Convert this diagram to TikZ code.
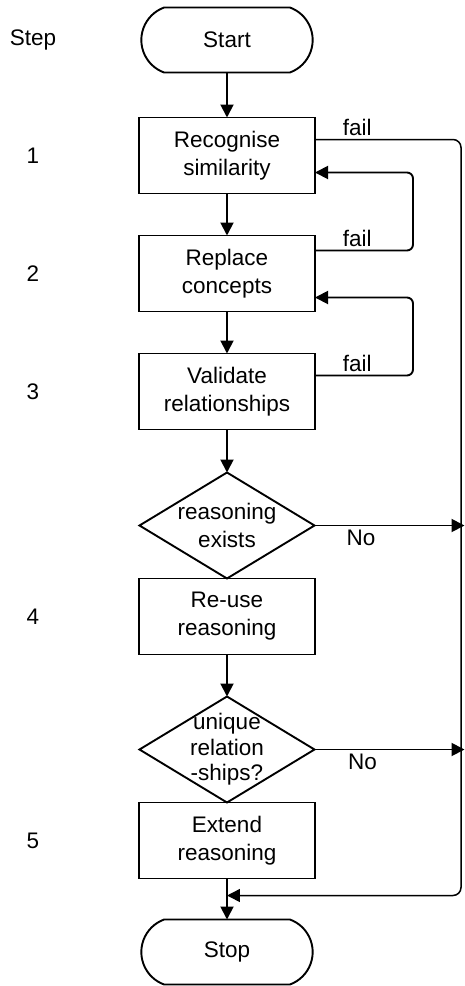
\documentclass[tikz,border=0pt]{standalone}
\usepackage{fontspec}
\setmainfont{Liberation Sans}
\usetikzlibrary{arrows.meta, positioning, shapes.geometric, shapes.misc}
\tikzstyle{flowchart}=[line width=1.9pt, >={Triangle[length=13pt,width=13pt]}, font=\fontsize{22.5}{28}\selectfont, node distance=42pt]
\tikzstyle{terminal}=[draw, rounded rectangle, rounded rectangle arc length=140, minimum width=178pt, minimum height=65pt, outer sep=0pt]
\tikzstyle{process}=[draw, rectangle, align=center, minimum width=176pt, minimum height=76pt, inner sep=0pt, outer sep=0pt]
\tikzstyle{decision}=[draw, diamond, align=center, aspect=1.65, inner sep=-12pt, minimum width=175pt, minimum height=106pt, outer sep=0pt]

\begin{document}
\begin{tikzpicture}[flowchart]
  \useasboundingbox (-227pt,40pt) rectangle (237pt,-946pt);
  \node[terminal] (start) at (0,0) {Start};
  \node[process] (1) [below=45pt of start] {Recognise\\similarity};
  \node[process] (2) [below=of 1] {Replace\\concepts};
  \node[process] (3) [below=of 2] {Validate\\relationships};
  \node[decision] (q1) [below=43pt of 3] {reasoning\\exists};
  \node[process] (4) [below=0pt of q1] {Re-use\\reasoning};
  \node[decision,font=\fontsize{22.5}{25.5}\selectfont] (q2) [below=of 4] {unique\\relation\\-ships?};
  \node[process] (5) [below=0pt of q2] {Extend\\reasoning};
  \node[terminal] (stop) [below=41pt of 5] {Stop};

  % step numbers on the left
  \coordinate (col) at (-194pt,0);
  \node (steps) at (col |- start) {Step};
  \node (s1) at (col |- 1) {1};
  \node (s2) at (col |- 2) {2};
  \node (s3) at (col |- 3) {3};
  \node (s4) at (col |- 4) {4};
  \node (s5) at (col |- 5) {5};

  \coordinate (exit1) at ([xshift=150pt]q1.east);
  \coordinate (exit2) at ([xshift=150pt]q2.east);
  \coordinate (join) at ([yshift=-17pt]5.south);

  \path[->] (start) edge (1);
  \path[->] (1) edge (2);
  \path[->] (2) edge (3);
  \path[->] (3) edge (q1);
  \path[->] (4) edge (q2);
  \path[->] (5) edge (stop);
  \path[->] (q1) edge node[below, pos=.31] {No} (exit1);
  \path[->] (q2) edge node[below, pos=.32] {No} (exit2);

  % fail loops
  \draw[->, rounded corners=6pt] ([yshift=23pt]2.east) -- node[above, pos=.43] {fail} ++(98pt,0) |- ([yshift=-17pt]1.east);
  \draw[->, rounded corners=6pt] ([yshift=16pt]3.east) -- node[above, pos=.43] {fail} ++(98pt,0) |- ([yshift=-24pt]2.east);
  \draw[->, rounded corners=8pt, line width=1.5pt] ([yshift=16pt]1.east) -- node[above, pos=.29] {fail} ++(146pt,0) |- (join);
\end{tikzpicture}
\end{document}
